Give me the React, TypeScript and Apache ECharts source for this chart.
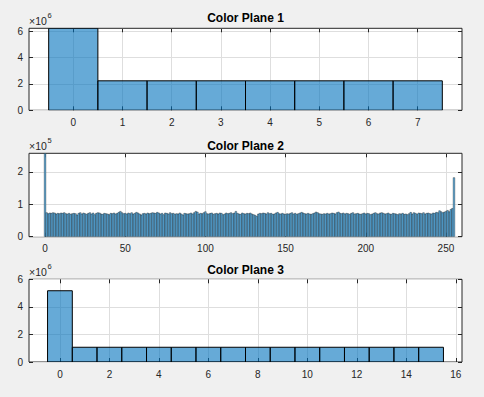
import React, { useEffect, useRef } from "react";
import * as echarts from "echarts";

const FONT = "Liberation Sans, Arial, Helvetica, sans-serif";

// Color Plane 1 : 8 bins
const plane1Bins = [0, 1, 2, 3, 4, 5, 6, 7];
const plane1Counts = [6230000, 2240000, 2240000, 2240000, 2240000, 2240000, 2240000, 2240000];
const plane1XTicks = [0, 1, 2, 3, 4, 5, 6, 7];
const plane1YTicks = [0, 2000000, 4000000, 6000000];

// Color Plane 2 : 256 bins (counts in thousands)
const plane2CountsK = [
  257, 74, 71, 73, 72, 74, 73, 70, 72, 71,
  73, 72, 74, 71, 70, 72, 69, 71, 72, 71,
  67, 72, 74, 70, 73, 71, 69, 72, 74, 70,
  73, 68, 72, 74, 73, 70, 69, 72, 71, 70,
  68, 72, 71, 73, 70, 72, 75, 78, 74, 71,
  72, 70, 73, 71, 74, 70, 72, 75, 73, 70,
  67, 71, 72, 70, 73, 71, 72, 74, 73, 72,
  75, 73, 70, 72, 68, 73, 72, 70, 74, 71,
  72, 69, 71, 70, 73, 70, 67, 72, 71, 70,
  71, 73, 70, 74, 78, 76, 70, 72, 71, 74,
  77, 71, 70, 72, 73, 69, 71, 72, 70, 73,
  72, 68, 70, 73, 71, 72, 74, 71, 73, 78,
  72, 70, 69, 73, 71, 70, 72, 71, 73, 70,
  68, 66, 63, 70, 72, 71, 73, 72, 70, 74,
  71, 72, 69, 70, 73, 75, 71, 70, 72, 70,
  69, 71, 70, 72, 74, 70, 72, 69, 71, 73,
  75, 73, 71, 70, 72, 70, 69, 71, 73, 76,
  74, 71, 70, 69, 71, 70, 72, 70, 71, 73,
  72, 70, 74, 76, 72, 71, 73, 70, 72, 71,
  69, 72, 74, 70, 71, 72, 70, 69, 71, 73,
  70, 72, 71, 68, 70, 72, 74, 71, 70, 73,
  74, 72, 70, 71, 73, 70, 69, 72, 71, 70,
  68, 71, 70, 72, 69, 70, 68, 71, 75, 70,
  74, 72, 69, 73, 72, 71, 74, 70, 72, 73,
  71, 70, 73, 72, 75, 74, 80, 77, 74, 76,
  78, 81, 77, 84, 87, 182,
];
const plane2Bins = plane2CountsK.map((_, i) => i);
const plane2XTicks = [0, 50, 100, 150, 200, 250];
const plane2YTicks = [0, 100000, 200000];

// Color Plane 3 : 16 bins
const plane3Bins = [0, 1, 2, 3, 4, 5, 6, 7, 8, 9, 10, 11, 12, 13, 14, 15];
const plane3Counts = [
  5170000, 1070000, 1070000, 1070000, 1070000, 1070000, 1070000, 1070000,
  1070000, 1070000, 1070000, 1070000, 1070000, 1070000, 1070000, 1070000,
];
const plane3XTicks = [0, 2, 4, 6, 8, 10, 12, 14, 16];
const plane3YTicks = [0, 2000000, 4000000, 6000000];

const titles = ["Color Plane 1", "Color Plane 2", "Color Plane 3"];
const exponents = ["6", "5", "6"];

const AXIS_COLOR = "#262626";
const GRID_COLOR = "#dedede";

export default function App() {
  const ref = useRef<HTMLDivElement>(null);

  useEffect(() => {
    if (!ref.current) return;
    const chart = echarts.init(ref.current, undefined, { renderer: "svg" });

    const panels = [
      {
        top: 28.3, height: 82, xMin: -0.9, xMax: 7.9, yMax: 6230000,
        bins: plane1Bins, counts: plane1Counts, xTicks: plane1XTicks, yTicks: plane1YTicks,
        div: 1e6, lw: 1, fill: "rgba(0,114,189,0.6)", titleY: 17.5,
      },
      {
        top: 153.3, height: 83.4, xMin: -10, xMax: 260, yMax: 257000,
        bins: plane2Bins, counts: plane2CountsK.map((v) => v * 1000), xTicks: plane2XTicks, yTicks: plane2YTicks,
        div: 1e5, lw: 0.35, fill: "#5cb0e4", titleY: 146,
      },
      {
        top: 279.3, height: 82.7, xMin: -1.25, xMax: 16.25, yMax: 6000000,
        bins: plane3Bins, counts: plane3Counts, xTicks: plane3XTicks, yTicks: plane3YTicks,
        div: 1e6, lw: 1, fill: "rgba(0,114,189,0.6)", titleY: 269.5,
      },
    ];

    const LEFT = 29;
    const WIDTH = 433;

    const grid: any[] = [];
    const xAxis: any[] = [];
    const yAxis: any[] = [];
    const series: any[] = [];
    const graphic: any[] = [];

    panels.forEach((p, i) => {
      grid.push({
        show: true, left: LEFT, top: p.top, width: WIDTH, height: p.height,
        backgroundColor: "#ffffff", borderColor: AXIS_COLOR, borderWidth: 1,
      });
      const tick = (vals: number[]) => ({
        inside: true, length: 4, customValues: vals,
        lineStyle: { color: AXIS_COLOR, width: 1 },
      });
      const line = { show: false, onZero: false };
      xAxis.push({
        gridIndex: i, type: "value", min: p.xMin, max: p.xMax, position: "bottom",
        axisLine: line, axisTick: tick(p.xTicks),
        axisLabel: {
          customValues: p.xTicks, color: AXIS_COLOR, fontSize: 10, fontFamily: FONT, margin: 7,
          formatter: (v: number) => String(v),
        },
        splitLine: { show: true, lineStyle: { color: GRID_COLOR, width: 1 } },
      });
      xAxis.push({
        gridIndex: i, type: "value", min: p.xMin, max: p.xMax, position: "top",
        axisLine: line, axisTick: tick(p.xTicks),
        axisLabel: { show: false }, splitLine: { show: false },
      });
      yAxis.push({
        gridIndex: i, type: "value", min: 0, max: p.yMax, position: "left",
        axisLine: line, axisTick: tick(p.yTicks),
        axisLabel: {
          customValues: p.yTicks, color: AXIS_COLOR, fontSize: 10, fontFamily: FONT, margin: 6,
          formatter: (v: number) => String(Math.round(v / p.div)),
        },
        splitLine: { show: true, lineStyle: { color: GRID_COLOR, width: 1 } },
      });
      yAxis.push({
        gridIndex: i, type: "value", min: 0, max: p.yMax, position: "right",
        axisLine: line, axisTick: tick(p.yTicks),
        axisLabel: { show: false }, splitLine: { show: false },
      });
      series.push({
        type: "custom",
        xAxisIndex: 2 * i,
        yAxisIndex: 2 * i,
        clip: true,
        data: p.bins.map((b, k) => [b, p.counts[k]]),
        encode: { x: 0, y: 1 },
        renderItem: (_params: any, api: any) => {
          const x = api.value(0);
          const y = api.value(1);
          const p0 = api.coord([x - 0.5, y]);
          const p1 = api.coord([x + 0.5, 0]);
          return {
            type: "rect",
            shape: { x: p0[0], y: p0[1], width: p1[0] - p0[0], height: p1[1] - p0[1] },
            style: { fill: p.fill, stroke: "#000000", lineWidth: p.lw },
          };
        },
      });
      graphic.push({
        type: "text", x: LEFT + WIDTH / 2, y: p.titleY,
        style: {
          text: titles[i], fontFamily: FONT, fontSize: 12, fontWeight: "bold",
          fill: "#000000", align: "center", verticalAlign: "middle",
        },
      });
      graphic.push({
        type: "text", x: LEFT, y: p.top - 2,
        style: {
          text: "\u00d710", fontFamily: FONT, fontSize: 10.5,
          fill: AXIS_COLOR, align: "left", verticalAlign: "bottom",
        },
      });
      graphic.push({
        type: "text", x: LEFT + 18.5, y: p.top - 9,
        style: {
          text: exponents[i], fontFamily: FONT, fontSize: 7.5,
          fill: AXIS_COLOR, align: "left", verticalAlign: "bottom",
        },
      });
    });

    chart.setOption({
      animation: false,
      backgroundColor: "#f0f0f0",
      grid, xAxis, yAxis, series, graphic,
    });

    return () => chart.dispose();
  }, []);

  return (
    <div
      ref={ref}
      style={{ position: "fixed", left: 0, top: 0, width: 484, height: 397 }}
    />
  );
}
